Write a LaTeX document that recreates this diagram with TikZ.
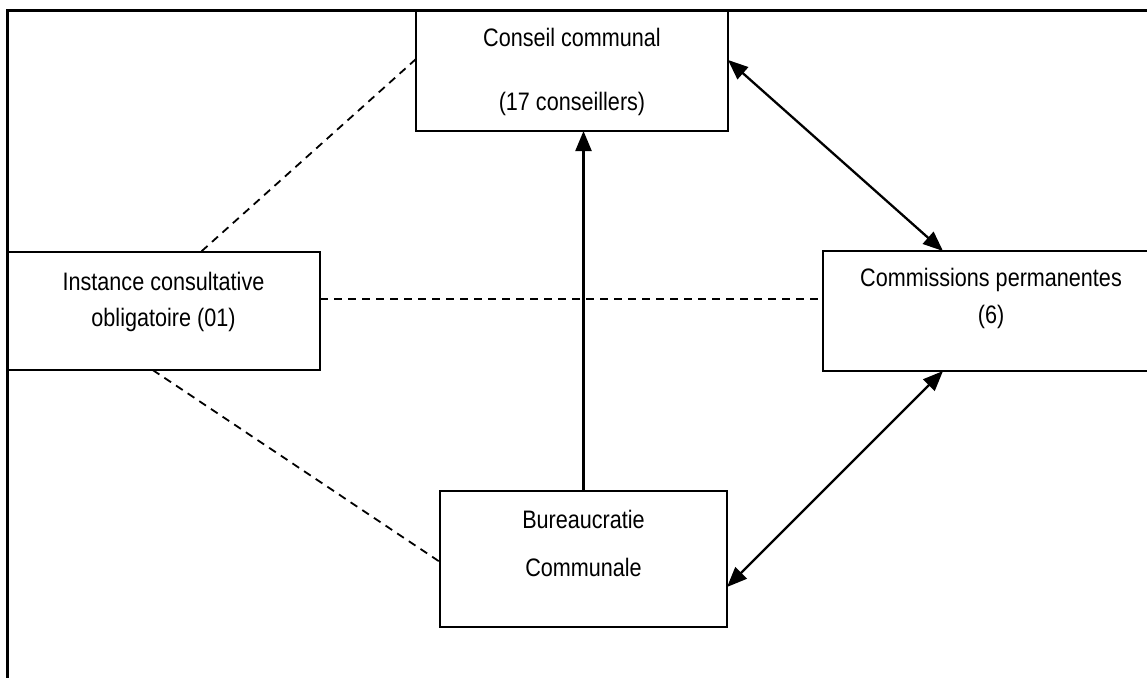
\documentclass[tikz,border=0pt]{standalone}
\usepackage{fontspec}
\setmainfont{Liberation Sans}
\usetikzlibrary{arrows.meta,calc}
\begin{document}
\begin{tikzpicture}[x=1pt,y=-1pt,
  box/.style={draw, line width=2.3pt, rectangle, inner sep=0pt, outer sep=0pt},
  lbl/.style={align=center, inner sep=0pt, yscale=1.17, transform shape},
  dsh/.style={line width=1.8pt, dash pattern=on 8pt off 6pt},
  arr/.style={line width=2.3pt, -{Triangle[length=20pt,width=16pt]}},
  darr/.style={line width=2.3pt, {Triangle[length=20pt,width=16pt]}-{Triangle[length=20pt,width=16pt]}}]
\clip (0,0) rectangle (1147,677);
\fill[white] (0,0) rectangle (1147,677);
\draw[line width=3pt] (7.5,690) -- (7.5,11) -- (1160,11);

\node[box, minimum width=312pt, minimum height=120pt] (conseil) at (572,71) {};
\node[box, minimum width=312.5pt, minimum height=118pt] (instance) at (163.75,311) {};
\node[box, minimum width=337pt, minimum height=120pt] (comm) at (991.5,311) {};
\node[box, minimum width=287pt, minimum height=136pt] (bureau) at (583.5,559) {};

\node[lbl, font=\fontsize{21.6}{54.7}\selectfont] (conseilT) at (572,72) {Conseil communal\\(17 conseillers)};
\node[lbl, font=\fontsize{21.6}{30.8}\selectfont] (instanceT) at (163.5,302) {Instance consultative\\obligatoire (01)};
\node[lbl, font=\fontsize{21.6}{31.6}\selectfont] (commT) at (991,298) {Commissions permanentes\\(6)};
\node[lbl, font=\fontsize{21.6}{41}\selectfont] (bureauT) at (583.5,543) {Bureaucratie\\Communale};

\draw[arr] (bureau.north) -- (bureau.north |- conseil.south);
\draw[darr] ([yshift=11pt]conseil.east) -- ([xshift=-48.5pt]comm.north);
\draw[darr] ([yshift=-28pt]bureau.east) -- ([xshift=-48.5pt]comm.south);

\draw[dsh] ([yshift=12pt]conseil.west) -- ([xshift=37pt]instance.north);
\draw[dsh] ([yshift=12pt]instance.east) -- ([yshift=12pt]comm.west);
\draw[dsh] ([xshift=-11pt]instance.south) -- ([yshift=-3pt]bureau.west);
\end{tikzpicture}
\end{document}
